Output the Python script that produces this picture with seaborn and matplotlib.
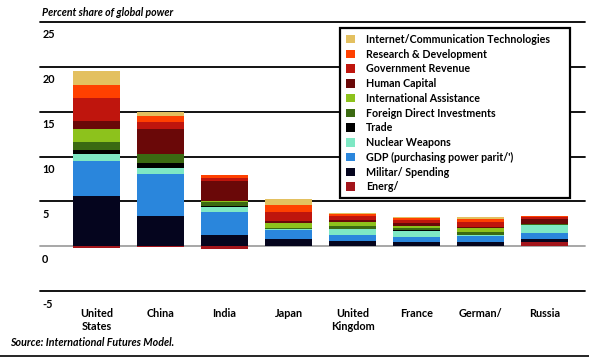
import numpy as np
import pandas as pd
import matplotlib
matplotlib.use("Agg")
import matplotlib.pyplot as plt
import matplotlib.transforms as mtransforms
from matplotlib.patches import Patch
from matplotlib.lines import Line2D
import seaborn as sns

# ---------------- data ----------------
countries = ["United\nStates", "China", "India", "Japan", "United\nKingdom",
             "France", "German/", "Russia"]

energy   = [-0.15, -0.05, -0.33, 0.00, 0.00, 0.00, 0.00, 0.48]
military = [5.63, 3.41, 1.22, 0.78, 0.60, 0.48, 0.48, 0.37]
gdp      = [3.89, 4.63, 2.59, 1.00, 0.63, 0.55, 0.67, 0.63]
nuclear  = [0.74, 0.67, 0.60, 0.10, 0.67, 0.67, 0.08, 0.85]
trade    = [0.48, 0.62, 0.10, 0.05, 0.05, 0.05, 0.05, 0.05]
fdi      = [0.89, 0.93, 0.45, 0.15, 0.25, 0.25, 0.26, 0.05]
intl     = [1.48, 0.05, 0.05, 0.55, 0.55, 0.30, 0.48, 0.00]
human    = [0.86, 2.78, 2.30, 0.18, 0.20, 0.25, 0.12, 0.63]
govrev   = [2.52, 0.74, 0.30, 1.04, 0.37, 0.37, 0.52, 0.15]
rnd      = [1.48, 0.74, 0.37, 0.74, 0.27, 0.20, 0.37, 0.10]
ict      = [1.56, 0.44, 0.00, 0.63, 0.12, 0.15, 0.22, 0.00]

labels_energy = "Energ/"
series = [  # bottom (after energy) to top
    ("Militar/ Spending", military, "#05051e"),
    ("GDP (purchasing power parit/')", gdp, "#2a86dc"),
    ("Nuclear Weapons", nuclear, "#7ee8c4"),
    ("Trade", trade, "#000000"),
    ("Foreign Direct Investments", fdi, "#3b6a12"),
    ("International Assistance", intl, "#8dc21c"),
    ("Human Capital", human, "#6a0808"),
    ("Government Revenue", govrev, "#bf150d"),
    ("Research & Development", rnd, "#ff4000"),
    ("Internet/Communication Technologies", ict, "#e3c060"),
]
energy_color = "#a3151b"
yticks = [-5, 0, 5, 10, 15, 20, 25]

# ---------------- style ----------------
sns.set_theme(style="white")
plt.rcParams["font.family"] = ["Lato", "DejaVu Sans"]
plt.rcParams["text.color"] = "black"
plt.rcParams["xtick.color"] = "black"

W, H = 589, 358
fig = plt.figure(figsize=(W / 100, H / 100), dpi=100)
ax = fig.add_axes([40 / W, 1 - 291 / H, 545 / W, 269 / H])

df = pd.DataFrame({"country": countries})
base = np.maximum(np.array(energy), 0)
cum = base.copy()
cums = []
for name, vals, col in series:
    cum = cum + np.array(vals)
    cums.append((name, cum.copy(), col))

for name, c, col in reversed(cums):
    sns.barplot(x=df["country"], y=c, order=countries, color=col, saturation=1,
                width=0.73, linewidth=0, errorbar=None, ax=ax, zorder=2)
sns.barplot(x=df["country"], y=np.array(energy), order=countries, color=energy_color,
            saturation=1, width=0.73, linewidth=0, errorbar=None, ax=ax, zorder=2)

ax.set_xlim(-0.88, 7.63)
ax.set_ylim(-5, 25)
for s in ax.spines.values():
    s.set_visible(False)

for v in yticks:
    col = "#a0a0a0" if v == 0 else "black"
    ax.axhline(v, color=col, lw=1.3, zorder=0, clip_on=False)

ax.set_yticks([])
ax.set_xlabel("")
ax.set_ylabel("")
ax.set_xticks(range(len(countries)))
ax.set_xticklabels(countries, fontsize=7.8, fontweight="bold", linespacing=1.25,
                   color="black")
ax.tick_params(axis="x", length=0, pad=12)

trans = mtransforms.blended_transform_factory(ax.transAxes, ax.transData)
trans = mtransforms.offset_copy(trans, fig=fig, x=0, y=-13, units="dots")
for v in yticks:
    ax.text(0.004, v, str(v), transform=trans, ha="left", va="center",
            fontsize=7.8, fontweight="bold", color="black")

handles = [Patch(facecolor=col, edgecolor="none") for _, _, col in reversed(series)]
handles.append(Patch(facecolor=energy_color, edgecolor="none"))
leg_labels = [n for n, _, _ in reversed(series)] + [labels_energy]
leg = fig.legend(handles, leg_labels, loc="upper left",
                 bbox_to_anchor=(340 / W, 1 - 200 / H, 230 / W, 172 / H),
                 mode="expand", frameon=True, fancybox=False, edgecolor="black",
                 framealpha=1, prop={"size": 7.7, "weight": "bold"},
                 handlelength=0.85, handleheight=0.85, handletextpad=1.05,
                 labelspacing=0.35, borderpad=0.55, borderaxespad=0)
leg.get_frame().set_linewidth(1.6)
for t in leg.get_texts():
    t.set_color("black")

fig.text(42 / W, 1 - 12 / H, "Percent share of global power", fontsize=7.6,
         fontstyle="italic", fontweight="bold", va="center", ha="left")
fig.text(10 / W, 1 - 343 / H, "Source: International Futures Model.", fontsize=7.7,
         fontstyle="italic", fontweight="bold", va="center", ha="left")
fig.add_artist(Line2D([0, 1], [1 - 356 / H] * 2, color="black", lw=1.2))

fig.savefig("out.png", dpi=100, facecolor="white")
